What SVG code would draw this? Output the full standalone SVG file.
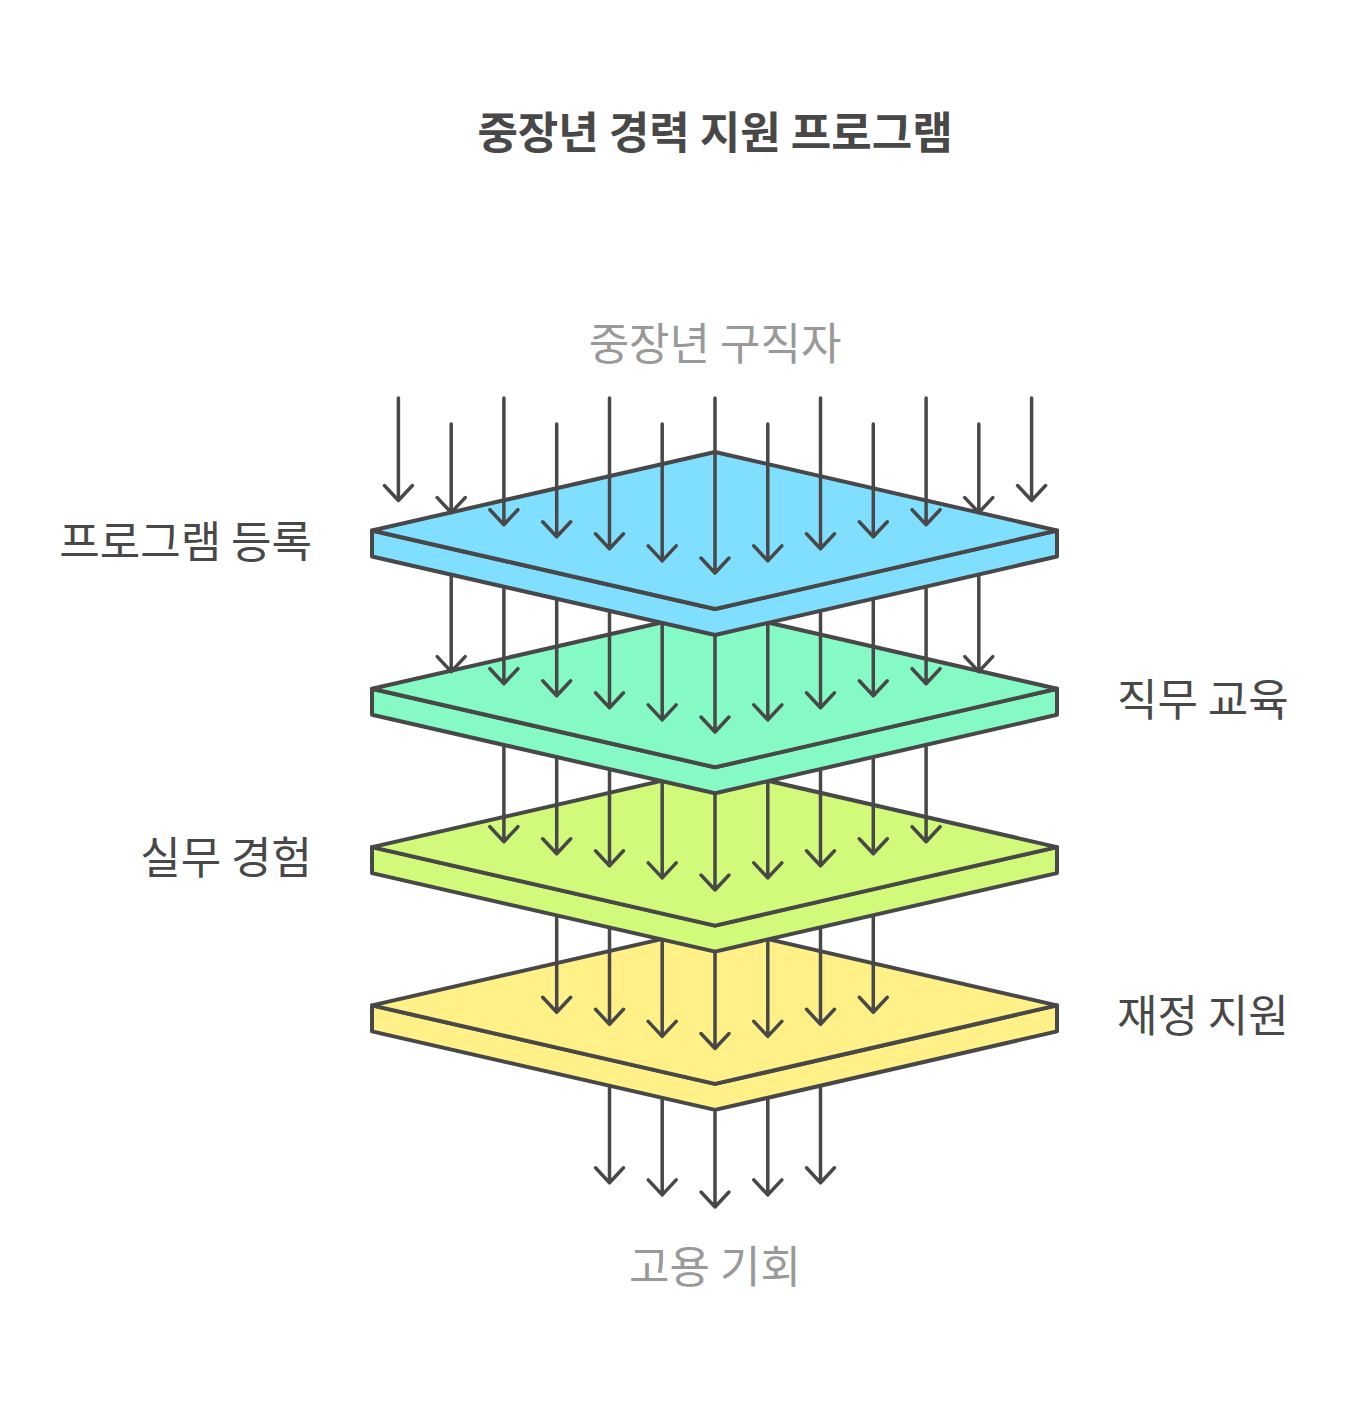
<svg xmlns="http://www.w3.org/2000/svg" width="1351" height="1404" viewBox="0 0 1351 1404">
<style>
  .top { stroke: #484848; stroke-width: 4; stroke-linejoin: round; }
  .side { stroke: #484848; stroke-width: 4; stroke-linejoin: round; }
  .arrow { fill: none; stroke: #484848; stroke-width: 3.5; stroke-linecap: round; stroke-linejoin: round; }
  .title { font-family: "Noto Sans CJK KR", "Noto Sans", sans-serif; font-size: 44px; font-weight: 700; fill: #484848; }
  .label { font-family: "Noto Sans CJK KR", "Noto Sans", sans-serif; font-size: 44px; fill: #484848; }
  .io { font-family: "Noto Sans CJK KR", "Noto Sans", sans-serif; font-size: 44px; fill: #999999; }
</style>
<rect width="1351" height="1404" fill="#ffffff"/>
<g id="title"><text class="title" x="715" y="148.5" text-anchor="middle">중장년 경력 지원 프로그램</text></g>
<g id="input"><text class="io" x="715" y="359.5" text-anchor="middle">중장년 구직자</text></g>
<g id="output"><text class="io" x="715" y="1283" text-anchor="middle">고용 기회</text></g>

<g id="layer4">
  <polygon class="side" fill="#FFF188" points="372,1005.4 715,1083.9 1057,1005.4 1057,1031.4 715,1109.9 372,1031.4"/>
  <polygon class="top" fill="#FFF188" points="372,1005.4 715,926.9 1057,1005.4 715,1083.9"/>
  <text class="label" x="1117" y="1032" text-anchor="start">재정 지원</text>
</g>
<g id="layer3">
  <polygon class="side" fill="#D1F97A" points="372,847.1 715,925.6 1057,847.1 1057,873.1 715,951.6 372,873.1"/>
  <polygon class="top" fill="#D1F97A" points="372,847.1 715,768.6 1057,847.1 715,925.6"/>
  <text class="label" x="312" y="874" text-anchor="end">실무 경험</text>
</g>
<g id="layer2">
  <polygon class="side" fill="#86FAC5" points="372,688.8 715,767.3 1057,688.8 1057,714.8 715,793.3 372,714.8"/>
  <polygon class="top" fill="#86FAC5" points="372,688.8 715,610.3 1057,688.8 715,767.3"/>
  <text class="label" x="1117" y="716" text-anchor="start">직무 교육</text>
</g>
<g id="layer1">
  <polygon class="side" fill="#80DFFF" points="372,530.5 715,609 1057,530.5 1057,556.5 715,635 372,556.5"/>
  <polygon class="top" fill="#80DFFF" points="372,530.5 715,452 1057,530.5 715,609"/>
  <text class="label" x="312" y="557.5" text-anchor="end">프로그램 등록</text>
</g>

<g id="connectors" class="arrow">
  <!-- into layer 1 -->
  <path d="M398.4 398 V500.5 M384.4 485.5 L398.4 500.5 L412.4 485.5"/>
  <path d="M451.2 424 V512.6 M437.2 497.6 L451.2 512.6 L465.2 497.6"/>
  <path d="M503.9 398 V524.7 M489.9 509.7 L503.9 524.7 L517.9 509.7"/>
  <path d="M556.7 424 V536.8 M542.7 521.8 L556.7 536.8 L570.7 521.8"/>
  <path d="M609.5 398 V548.8 M595.5 533.8 L609.5 548.8 L623.5 533.8"/>
  <path d="M662.2 424 V560.9 M648.2 545.9 L662.2 560.9 L676.2 545.9"/>
  <path d="M715 398 V573 M701 558 L715 573 L729 558"/>
  <path d="M767.8 424 V560.9 M753.8 545.9 L767.8 560.9 L781.8 545.9"/>
  <path d="M820.5 398 V548.8 M806.5 533.8 L820.5 548.8 L834.5 533.8"/>
  <path d="M873.3 424 V536.8 M859.3 521.8 L873.3 536.8 L887.3 521.8"/>
  <path d="M926.1 398 V524.7 M912.1 509.7 L926.1 524.7 L940.1 509.7"/>
  <path d="M978.8 424 V512.6 M964.8 497.6 L978.8 512.6 L992.8 497.6"/>
  <path d="M1031.6 398 V500.5 M1017.6 485.5 L1031.6 500.5 L1045.6 485.5"/>
  <!-- layer 1 to layer 2 -->
  <path d="M451.2 576.6 V671.6 M437.2 656.6 L451.2 671.6 L465.2 656.6"/>
  <path d="M503.9 588.7 V683.7 M489.9 668.7 L503.9 683.7 L517.9 668.7"/>
  <path d="M556.7 600.8 V695.8 M542.7 680.8 L556.7 695.8 L570.7 680.8"/>
  <path d="M609.5 612.8 V707.8 M595.5 692.8 L609.5 707.8 L623.5 692.8"/>
  <path d="M662.2 624.9 V719.9 M648.2 704.9 L662.2 719.9 L676.2 704.9"/>
  <path d="M715 637 V732 M701 717 L715 732 L729 717"/>
  <path d="M767.8 624.9 V719.9 M753.8 704.9 L767.8 719.9 L781.8 704.9"/>
  <path d="M820.5 612.8 V707.8 M806.5 692.8 L820.5 707.8 L834.5 692.8"/>
  <path d="M873.3 600.8 V695.8 M859.3 680.8 L873.3 695.8 L887.3 680.8"/>
  <path d="M926.1 588.7 V683.7 M912.1 668.7 L926.1 683.7 L940.1 668.7"/>
  <path d="M978.8 576.6 V671.6 M964.8 656.6 L978.8 671.6 L992.8 656.6"/>
  <!-- layer 2 to layer 3 -->
  <path d="M503.9 747 V841.7 M489.9 826.7 L503.9 841.7 L517.9 826.7"/>
  <path d="M556.7 759.1 V853.8 M542.7 838.8 L556.7 853.8 L570.7 838.8"/>
  <path d="M609.5 771.1 V865.8 M595.5 850.8 L609.5 865.8 L623.5 850.8"/>
  <path d="M662.2 783.2 V877.9 M648.2 862.9 L662.2 877.9 L676.2 862.9"/>
  <path d="M715 795.3 V890 M701 875 L715 890 L729 875"/>
  <path d="M767.8 783.2 V877.9 M753.8 862.9 L767.8 877.9 L781.8 862.9"/>
  <path d="M820.5 771.1 V865.8 M806.5 850.8 L820.5 865.8 L834.5 850.8"/>
  <path d="M873.3 759.1 V853.8 M859.3 838.8 L873.3 853.8 L887.3 838.8"/>
  <path d="M926.1 747 V841.7 M912.1 826.7 L926.1 841.7 L940.1 826.7"/>
  <!-- layer 3 to layer 4 -->
  <path d="M556.7 917.4 V1012.3 M542.7 997.3 L556.7 1012.3 L570.7 997.3"/>
  <path d="M609.5 929.4 V1024.3 M595.5 1009.3 L609.5 1024.3 L623.5 1009.3"/>
  <path d="M662.2 941.5 V1036.4 M648.2 1021.4 L662.2 1036.4 L676.2 1021.4"/>
  <path d="M715 953.6 V1048.5 M701 1033.5 L715 1048.5 L729 1033.5"/>
  <path d="M767.8 941.5 V1036.4 M753.8 1021.4 L767.8 1036.4 L781.8 1021.4"/>
  <path d="M820.5 929.4 V1024.3 M806.5 1009.3 L820.5 1024.3 L834.5 1009.3"/>
  <path d="M873.3 917.4 V1012.3 M859.3 997.3 L873.3 1012.3 L887.3 997.3"/>
  <!-- layer 4 to output -->
  <path d="M609.5 1087.7 V1182.8 M595.5 1167.8 L609.5 1182.8 L623.5 1167.8"/>
  <path d="M662.2 1099.8 V1194.9 M648.2 1179.9 L662.2 1194.9 L676.2 1179.9"/>
  <path d="M715 1111.9 V1207 M701 1192 L715 1207 L729 1192"/>
  <path d="M767.8 1099.8 V1194.9 M753.8 1179.9 L767.8 1194.9 L781.8 1179.9"/>
  <path d="M820.5 1087.7 V1182.8 M806.5 1167.8 L820.5 1182.8 L834.5 1167.8"/>
</g>
</svg>
